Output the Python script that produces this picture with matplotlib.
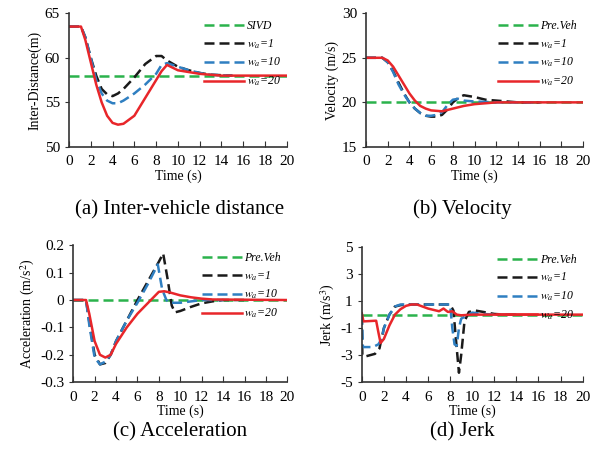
import numpy as np
import matplotlib.pyplot as plt

plt.rcParams['font.family'] = 'Liberation Serif'
plt.rcParams['mathtext.fontset'] = 'stix'
plt.rcParams['axes.unicode_minus'] = False

# ---- data ----
# (a) inter-vehicle distance
t_sivd = [0, 20]
d_sivd = [58, 58]
t_d1 = [0, 1.1, 1.5, 2, 2.5, 3, 3.5, 4, 4.5, 5, 6, 7, 8, 8.5, 9, 10, 11, 12, 13, 15]
d_w1 = [63.5, 63.5, 62.3, 60.0, 58.0, 56.5, 55.9, 55.7, 56.0, 56.5, 57.8, 59.3, 60.2, 60.2, 59.7, 59.0, 58.6, 58.3, 58.1, 58.0]
d_w10 = [63.5, 63.5, 62.3, 60.0, 57.5, 56.0, 55.2, 54.9, 54.9, 55.2, 56.0, 57.0, 58.2, 59.2, 59.4, 59.0, 58.6, 58.3, 58.1, 58.0]
t_d20 = [0, 1.1, 1.5, 2, 2.5, 3, 3.5, 4, 4.5, 5, 6, 7, 8, 8.5, 9, 10, 11, 12, 13, 14, 20]
d_w20 = [63.5, 63.5, 62.0, 59.5, 57.0, 55.0, 53.5, 52.7, 52.5, 52.6, 53.5, 55.5, 57.5, 58.5, 59.2, 58.6, 58.4, 58.2, 58.1, 58.0, 58.0]

# (b) velocity
t_pre = [0, 20]
v_pre = [20, 20]
t_v = [0, 1.5, 2, 2.5, 3, 3.5, 4, 4.5, 5, 5.5, 6, 6.5, 7, 7.5, 8, 8.5, 9, 10, 11, 12, 13, 14, 16]
v_w1 = [25, 25, 24.5, 23.5, 22.2, 21.0, 20.0, 19.3, 18.8, 18.5, 18.4, 18.4, 18.6, 19.2, 20.0, 20.5, 20.8, 20.6, 20.3, 20.2, 20.1, 20.0, 20.0]
v_w10 = [25, 25, 24.5, 23.4, 22.0, 20.9, 20.0, 19.3, 18.8, 18.5, 18.5, 18.6, 18.9, 19.7, 20.3, 20.4, 20.2, 20.1, 20.05, 20.0, 20.0, 20.0, 20.0]
t_v20 = [0, 1.5, 2, 2.5, 3, 3.5, 4, 4.5, 5, 5.5, 6, 7, 8, 9, 10, 11, 12, 20]
v_w20 = [25, 25, 24.7, 24.0, 23.0, 22.0, 21.0, 20.2, 19.6, 19.3, 19.1, 19.0, 19.3, 19.6, 19.8, 19.9, 20.0, 20.0]

# (c) acceleration
a_pre = [0, 0]
t_a1 = [0, 1.2, 1.5, 2, 2.5, 3, 3.5, 4, 5, 6, 7, 8, 8.4, 8.8, 9.2, 9.5, 10, 11, 12, 13, 14, 16]
a_w1 = [0, 0, -0.08, -0.2, -0.235, -0.23, -0.2, -0.15, -0.075, 0.0, 0.07, 0.14, 0.17, 0.08, -0.02, -0.045, -0.04, -0.025, -0.012, -0.005, 0, 0]
t_a10 = [0, 1.2, 1.5, 2, 2.5, 3, 3.5, 4, 5, 6, 7, 7.9, 8.3, 8.7, 9, 10, 11, 12, 14]
a_w10 = [0, 0, -0.09, -0.21, -0.235, -0.225, -0.2, -0.15, -0.075, -0.01, 0.06, 0.13, 0.04, 0.0, -0.01, -0.01, -0.005, 0, 0]
t_a20 = [0, 1.2, 1.5, 2, 2.5, 3, 3.5, 4, 5, 6, 7, 7.5, 8, 8.5, 9, 10, 11, 12, 13, 20]
a_w20 = [0, 0, -0.05, -0.15, -0.2, -0.21, -0.2, -0.16, -0.1, -0.05, -0.01, 0.01, 0.03, 0.032, 0.028, 0.017, 0.01, 0.005, 0.002, 0]

# (d) jerk
j_pre = [0, 0]
t_j1 = [0, 0.05, 0.3, 1.2, 1.6, 2, 2.5, 3, 3.5, 4, 8, 8.3, 8.6, 8.8, 9.0, 9.3, 9.7, 10.3, 11, 12, 13, 14]
j_w1 = [0, -3.0, -3.1, -2.9, -2.5, -1.0, 0.0, 0.6, 0.7, 0.75, 0.75, 0.3, -2.5, -4.3, -3.0, -0.5, 0.2, 0.3, 0.2, 0.05, 0, 0]
t_j10 = [0, 0.1, 1.0, 1.5, 1.8, 2, 2.5, 3, 3.5, 8, 8.2, 8.4, 8.6, 8.8, 9, 10, 11, 12, 14]
j_w10 = [0, -2.4, -2.4, -2.2, -1.8, -1.0, 0.0, 0.6, 0.75, 0.75, -1.0, -2.2, -2.3, -1.0, -0.3, 0.15, 0.05, 0, 0]
t_j20 = [0, 0.15, 1.3, 1.5, 1.7, 2, 2.5, 3, 3.5, 4, 4.5, 5, 5.5, 6, 6.5, 7, 7.4, 7.8, 8.2, 8.6, 9, 10, 12, 20]
j_w20 = [0.1, -0.5, -0.45, -1.3, -2.1, -1.8, -0.8, 0.0, 0.4, 0.65, 0.75, 0.75, 0.6, 0.45, 0.35, 0.25, 0.45, 0.2, 0.25, 0.0, -0.05, 0, 0, 0]

green = '#2bb24c'
black = '#1a1a1a'
blue = '#2f7fc1'
red = '#e8262a'
dash = (4, 2)
lw = 1.8

labels_w = [r'$w_a$=1', r'$w_a$=10', r'$w_a$=20']


def style_axes(ax, ylim, yticks, ylabel):
    ax.set_xlim(0, 20)
    ax.set_ylim(*ylim)
    ax.set_xticks(np.arange(0, 21, 2))
    ax.set_yticks(yticks)
    ax.spines['top'].set_visible(False)
    ax.spines['right'].set_visible(False)
    for s in ['left', 'bottom']:
        ax.spines[s].set_color('#333333')
        ax.spines[s].set_linewidth(1.2)
    ax.tick_params(axis='x', direction='in', length=4, labelsize=11, pad=6, color='#333333')
    ax.tick_params(axis='y', direction='out', length=3, labelsize=11, color='#333333')
    ax.set_xlabel('Time (s)', fontsize=10, labelpad=1)
    ax.set_ylabel(ylabel, fontsize=10, labelpad=2)
    ax.legend(loc='upper right', bbox_to_anchor=(1.02, 1.03), frameon=False,
              handlelength=3.4, handletextpad=0.2, labelspacing=0.45,
              prop={'style': 'italic', 'size': 8.5})


fig = plt.figure(figsize=(6, 4.55), dpi=100)

# (a)
ax1 = fig.add_axes([0.115, 0.677, 0.363, 0.294])
ax1.plot(t_sivd, d_sivd, color=green, lw=lw, dashes=dash, label='SIVD')
ax1.plot(t_d1, d_w1, color=black, lw=lw, dashes=dash, label=labels_w[0])
ax1.plot(t_d1, d_w10, color=blue, lw=lw, dashes=dash, label=labels_w[1])
ax1.plot(t_d20, d_w20, color=red, lw=lw, label=labels_w[2])
style_axes(ax1, (50, 65), [50, 55, 60, 65], 'Inter-Distance(m)')

# (b)
ax2 = fig.add_axes([0.61, 0.677, 0.362, 0.294])
ax2.plot(t_pre, v_pre, color=green, lw=lw, dashes=dash, label='Pre.Veh')
ax2.plot(t_v, v_w1, color=black, lw=lw, dashes=dash, label=labels_w[0])
ax2.plot(t_v, v_w10, color=blue, lw=lw, dashes=dash, label=labels_w[1])
ax2.plot(t_v20, v_w20, color=red, lw=lw, label=labels_w[2])
style_axes(ax2, (15, 30), [15, 20, 25, 30], 'Velocity (m/s)')

# (c)
ax3 = fig.add_axes([0.122, 0.160, 0.357, 0.301])
ax3.plot(t_pre, a_pre, color=green, lw=lw, dashes=dash, label='Pre.Veh')
ax3.plot(t_a1, a_w1, color=black, lw=lw, dashes=dash, label=labels_w[0])
ax3.plot(t_a10, a_w10, color=blue, lw=lw, dashes=dash, label=labels_w[1])
ax3.plot(t_a20, a_w20, color=red, lw=lw, label=labels_w[2])
style_axes(ax3, (-0.3, 0.2), [-0.3, -0.2, -0.1, 0, 0.1, 0.2], r'Acceleration (m/s$^2$)')
ax3.set_yticklabels(['-0.3', '-0.2', '-0.1', '0', '0.1', '0.2'])

# (d)
ax4 = fig.add_axes([0.603, 0.160, 0.368, 0.297])
ax4.plot(t_pre, j_pre, color=green, lw=lw, dashes=dash, label='Pre.Veh')
ax4.plot(t_j1, j_w1, color=black, lw=lw, dashes=dash, label=labels_w[0])
ax4.plot(t_j10, j_w10, color=blue, lw=lw, dashes=dash, label=labels_w[1])
ax4.plot(t_j20, j_w20, color=red, lw=lw, label=labels_w[2])
style_axes(ax4, (-5, 5), [-5, -3, -1, 1, 3, 5], r'Jerk (m/s$^3$)')

# captions
fig.text(0.30, 0.538, '(a) Inter-vehicle distance', ha='center', va='center', fontsize=15)
fig.text(0.77, 0.540, '(b) Velocity', ha='center', va='center', fontsize=15)
fig.text(0.30, 0.050, '(c) Acceleration', ha='center', va='center', fontsize=15)
fig.text(0.77, 0.050, '(d) Jerk', ha='center', va='center', fontsize=15)

plt.savefig('out.png', dpi=100)
